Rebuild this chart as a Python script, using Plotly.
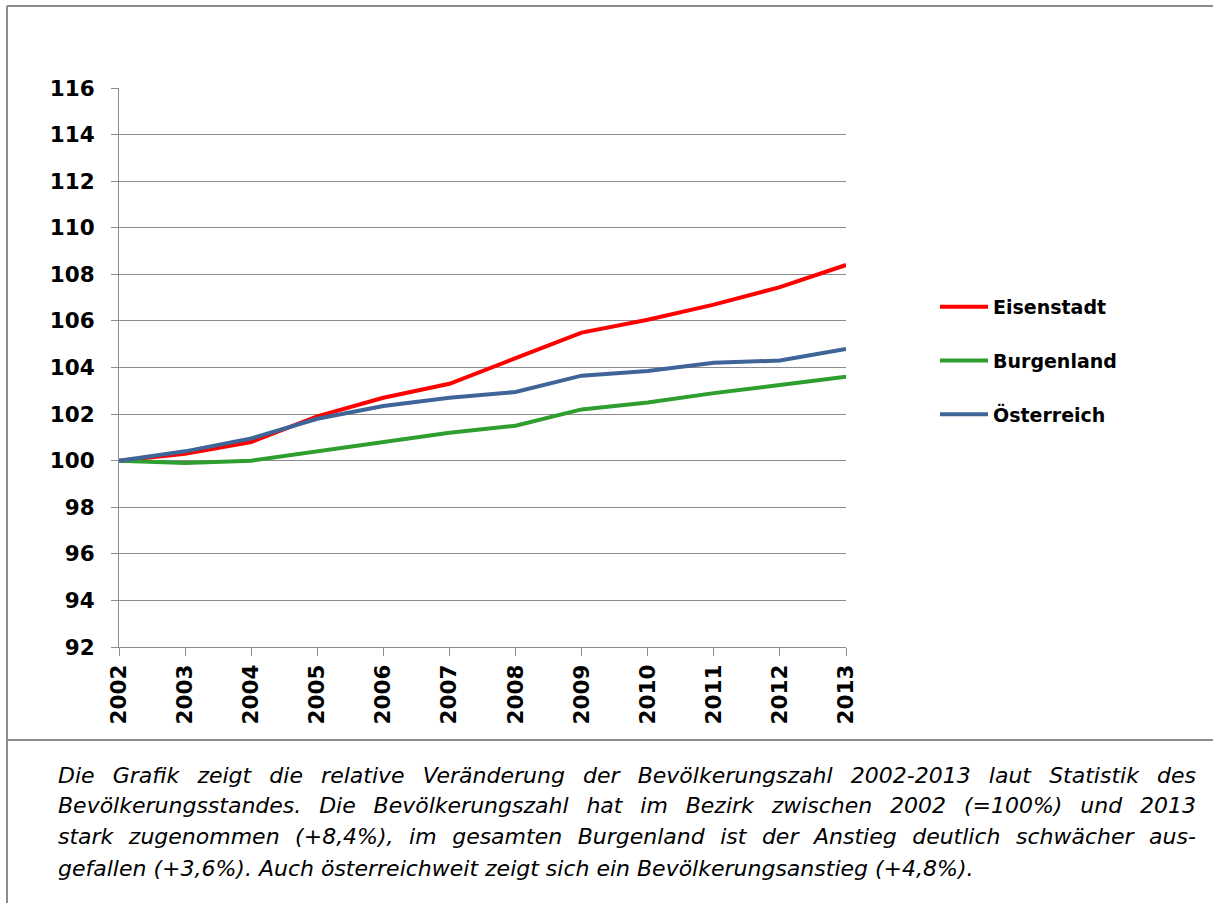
import json
import plotly.graph_objects as go

W, H = 1213, 903

years = [2002, 2003, 2004, 2005, 2006, 2007, 2008, 2009, 2010, 2011, 2012, 2013]
eisenstadt = [100.0, 100.3, 100.8, 101.9, 102.7, 103.3, 104.4, 105.5, 106.05, 106.7, 107.45, 108.4]
burgenland = [100.0, 99.9, 100.0, 100.4, 100.8, 101.2, 101.5, 102.2, 102.5, 102.9, 103.25, 103.6]
oesterreich = [100.0, 100.4, 100.95, 101.8, 102.35, 102.7, 102.95, 103.65, 103.85, 104.2, 104.3, 104.8]

series_names = ["Eisenstadt", "Burgenland", "Österreich"]
series_colors = ["#ff0000", "#2e9e2e", "#3f6598"]

y_ticks = [92, 94, 96, 98, 100, 102, 104, 106, 108, 110, 112, 114, 116]

caption_lines = [
    "Die Grafik zeigt die relative Veränderung der Bevölkerungszahl 2002-2013 laut Statistik des",
    "Bevölkerungsstandes. Die Bevölkerungszahl hat im Bezirk zwischen 2002 (=100%) und 2013",
    "stark zugenommen (+8,4%), im gesamten Burgenland ist der Anstieg deutlich schwächer aus-",
    "gefallen (+3,6%). Auch österreichweit zeigt sich ein Bevölkerungsanstieg (+4,8%).",
]

GRID = "#8c8c8c"
FONT = "DejaVu Sans"

fig = go.Figure()
for i, (name, vals, col) in enumerate(zip(series_names, [eisenstadt, burgenland, oesterreich], series_colors)):
    fig.add_trace(go.Scatter(
        x=years, y=vals, mode="lines", name=name,
        line=dict(color=col, width=4), legendgroup=f"g{i}",
    ))

px_x = lambda p: p / W
px_y = lambda p: 1 - p / H

fig.update_layout(
    width=W, height=H,
    margin=dict(l=0, r=0, t=0, b=0, autoexpand=False),
    paper_bgcolor="white", plot_bgcolor="white",
    font=dict(family=FONT, color="black"),
    showlegend=True,
    legend=dict(
        x=px_x(935), y=px_y(288), xanchor="left", yanchor="top",
        font=dict(family=FONT, size=19, weight="bold", color="black"),
        tracegroupgap=26, itemwidth=48, bgcolor="rgba(0,0,0,0)",
    ),
    xaxis=dict(
        domain=[px_x(119), px_x(846)], range=[2002, 2013],
        tickmode="array", tickvals=years, ticktext=[str(y) for y in years],
        tickangle=-90, ticks="outside", ticklen=8, tickcolor=GRID, tickwidth=1,
        showgrid=False, showline=True, linecolor=GRID, linewidth=1,
        tickfont=dict(family=FONT, size=21.5, weight="bold", color="black"),
        zeroline=False, anchor="y", automargin=False,
    ),
    yaxis=dict(
        domain=[px_y(647), px_y(88)], range=[92, 116],
        tickmode="array", tickvals=y_ticks,
        ticks="outside", ticklen=7, tickcolor=GRID, tickwidth=1,
        showgrid=True, gridcolor=GRID, gridwidth=1,
        showline=True, linecolor=GRID, linewidth=1,
        tickfont=dict(family=FONT, size=21.5, weight="bold", color="black"),
        ticklabelstandoff=12,
        zeroline=False, anchor="x", automargin=False,
    ),
    shapes=[
        dict(type="line", xref="paper", yref="paper", x0=px_x(7), x1=1, y0=px_y(6), y1=px_y(6),
             line=dict(color=GRID, width=2)),
        dict(type="line", xref="paper", yref="paper", x0=px_x(7), x1=px_x(7), y0=px_y(6), y1=0,
             line=dict(color=GRID, width=2)),
        dict(type="line", xref="paper", yref="paper", x0=px_x(7), x1=1, y0=px_y(740), y1=px_y(740),
             line=dict(color=GRID, width=2)),
    ],
)

line_y = [775, 805, 836, 868]
for txt, yy in zip(caption_lines, line_y):
    fig.add_annotation(
        text=txt, xref="paper", yref="paper", x=px_x(57), y=px_y(yy),
        xanchor="left", yanchor="middle", align="left", showarrow=False,
        font=dict(family=FONT, size=22, style="italic", color="black"),
        borderpad=0,
    )

justify = json.dumps(caption_lines[:3])
post = """
(function(){
var st = document.createElement('style');
st.textContent = 'html,body{margin:0;padding:0;overflow:hidden;}';
document.head.appendChild(st);
document.body.style.margin='0';
var gd = document.getElementsByClassName('plotly-graph-div')[0];
var J = %s;
var Wp = gd._fullLayout.width;
var g = gd.getBoundingClientRect();
var scale = g.width / Wp;
var rightEdge = g.left + 1196 / 1213 * Wp * scale;
document.querySelectorAll('.annotation-text').forEach(function(t){
  var s = t.textContent;
  if (J.indexOf(s) >= 0) {
    var n = (s.match(/ /g) || []).length;
    if (n === 0) return;
    var ws = 0;
    t.style.wordSpacing = '0px';
    for (var k = 0; k < 5; k++) {
      var r = t.getBoundingClientRect();
      ws += (rightEdge - r.right) / scale / n;
      t.style.wordSpacing = ws + 'px';
    }
  }
});
})();
""" % justify

fig.write_html("out.html", post_script=post, config={"displayModeBar": False})
